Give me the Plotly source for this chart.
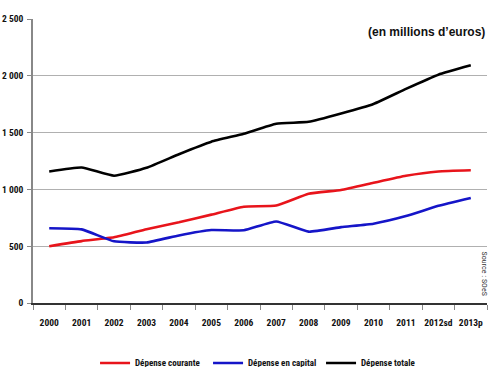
import plotly.graph_objects as go

years = ["2000", "2001", "2002", "2003", "2004", "2005", "2006", "2007",
         "2008", "2009", "2010", "2011", "2012sd", "2013p"]
courante = [500, 545, 578, 650, 710, 778, 848, 858, 962, 995, 1058, 1120, 1158, 1168]
capital = [658, 648, 543, 533, 595, 642, 640, 718, 628, 668, 698, 765, 855, 925]
totale = [1158, 1193, 1120, 1190, 1310, 1420, 1490, 1578, 1595, 1668, 1752, 1885, 2010, 2092]
series_names = ["Dépense courante", "Dépense en capital", "Dépense totale"]
colors = ["#e8141b", "#1515c8", "#000000"]

FONT = "Liberation Sans Narrow, Arial Narrow, Roboto Condensed, Roboto, sans-serif"

fig = go.Figure()
for name, vals, c in zip(series_names, [courante, capital, totale], colors):
    fig.add_trace(go.Scatter(
        x=years, y=vals, name=name, mode="lines",
        line=dict(color=c, width=2.6, shape="spline", smoothing=0.4),
    ))

fig.update_layout(
    width=500, height=367,
    margin=dict(l=33, r=13, t=19, b=64, autoexpand=False),
    paper_bgcolor="white", plot_bgcolor="white",
    font=dict(family=FONT, size=10, color="#111111"),
    showlegend=True,
    legend=dict(orientation="h", x=0.51, xanchor="center", y=-0.16, yanchor="top",
                font=dict(family=FONT, size=9, color="#111111", weight="bold"),
                entrywidth=68, entrywidthmode="pixels",
                itemwidth=30, tracegroupgap=0),
    xaxis=dict(
        type="category", tickson="boundaries", ticks="outside", ticklen=5,
        tickcolor="#888888", showline=True, linecolor="#333333", linewidth=1.5,
        showgrid=False, tickangle=0, automargin=False, ticklabelstandoff=10,
        tickfont=dict(family=FONT, size=9.5, color="#111111", weight="bold"),
        range=[-0.5, 13.5],
    ),
    yaxis=dict(
        range=[0, 2500], tickvals=[0, 500, 1000, 1500, 2000, 2500],
        ticktext=["0", "500", "1 000", "1 500", "2 000", "2 500"],
        showgrid=True, gridcolor="#b0b0b0", gridwidth=1.2,
        showline=True, linecolor="#888888", linewidth=1.5,
        ticks="outside", ticklen=4, tickcolor="#888888",
        zeroline=False, automargin=False, ticklabelstandoff=2,
        tickfont=dict(family=FONT, size=9.5, color="#111111", weight="bold"),
    ),
    annotations=[
        dict(text="(en millions d\u2019euros)", xref="paper", yref="paper",
             x=1.0, y=0.985, xanchor="right", yanchor="top", showarrow=False,
             font=dict(family="Liberation Sans, Arial, sans-serif", size=12,
                       color="#111111", weight="bold")),
        dict(text="Source : SOeS", xref="paper", yref="paper",
             x=0.995, y=0.02, xanchor="center", yanchor="bottom", textangle=90,
             showarrow=False,
             font=dict(family=FONT, size=8, color="#333333")),
    ],
)

fig.write_html("out.html", config={"displayModeBar": False},
               post_script="document.body.style.margin='0px';")
